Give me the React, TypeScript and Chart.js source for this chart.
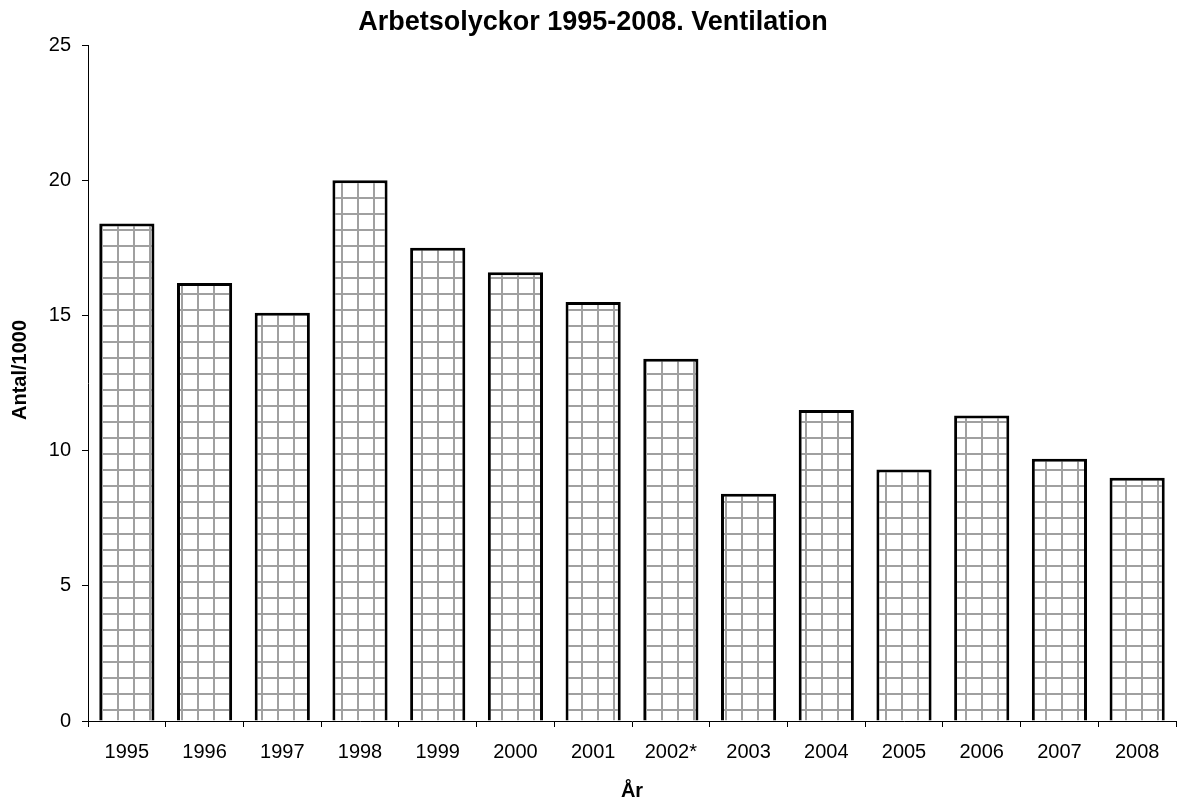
import React, { useEffect, useRef } from "react";
import { Chart, registerables } from "chart.js";

Chart.register(...registerables);

const years: string[] = ["1995", "1996", "1997", "1998", "1999", "2000", "2001", "2002*", "2003", "2004", "2005", "2006", "2007", "2008"];
const values: number[] = [18.4, 16.2, 15.1, 20.0, 17.5, 16.6, 15.5, 13.4, 8.4, 11.5, 9.3, 11.3, 9.7, 9.0];
const chartTitle = "Arbetsolyckor 1995-2008. Ventilation";
const xTitle = "År";
const yTitle = "Antal/1000";
const yMax = 25;
const yStep = 5;

const FONT = "'Liberation Sans', Arial, sans-serif";

function makePattern(): CanvasPattern | string {
  const c = document.createElement("canvas");
  const s = 16;
  c.width = s;
  c.height = s;
  const ctx = c.getContext("2d");
  if (!ctx) return "#fff";
  ctx.fillStyle = "#ffffff";
  ctx.fillRect(0, 0, s, s);
  ctx.fillStyle = "#a0a0a0";
  ctx.fillRect(5, 0, 2, s);
  ctx.fillRect(0, 5, s, 2);
  const p = ctx.createPattern(c, "repeat");
  return p || "#fff";
}

const textPlugin = {
  id: "customTexts",
  afterDraw(chart: any) {
    const ctx = chart.ctx as CanvasRenderingContext2D;
    ctx.save();
    ctx.fillStyle = "#000";
    ctx.textAlign = "center";
    ctx.textBaseline = "middle";
    ctx.font = `bold 27px ${FONT}`;
    ctx.fillText(chartTitle, 593, 23);
    ctx.translate(20, 370);
    ctx.rotate(-Math.PI / 2);
    ctx.font = `bold 20px ${FONT}`;
    ctx.fillText(yTitle, 0, 0);
    ctx.restore();
  },
};

export default function App() {
  const ref = useRef<HTMLCanvasElement | null>(null);

  useEffect(() => {
    if (!ref.current) return;
    const pattern = makePattern();
    const chart = new Chart(ref.current, {
      type: "bar",
      data: {
        labels: years,
        datasets: [
          {
            data: values,
            backgroundColor: pattern as any,
            borderColor: "#000000",
            borderWidth: 3,
            barPercentage: 0.71,
            categoryPercentage: 1.0,
          },
        ],
      },
      plugins: [textPlugin],
      options: {
        animation: false,
        responsive: true,
        maintainAspectRatio: false,
        layout: { padding: { left: 0, right: 14, top: 45, bottom: 0 } },
        plugins: {
          legend: { display: false },
          tooltip: { enabled: false },
          title: { display: false },
        },
        scales: {
          x: {
            offset: true,
            grid: {
              display: true,
              drawOnChartArea: false,
              drawTicks: true,
              tickLength: 6,
              color: "#000",
              offset: true,
            },
            border: { display: true, color: "#000", width: 1 },
            ticks: {
              color: "#000",
              font: { family: FONT, size: 20 },
              padding: 13,
              maxRotation: 0,
              autoSkip: false,
            },
            title: {
              display: true,
              text: xTitle,
              color: "#000",
              font: { family: FONT, size: 20, weight: "bold" },
              padding: { top: 0, bottom: 2 },
            },
            afterFit: (scale: any) => {
              scale.height = 84;
            },
          },
          y: {
            min: 0,
            max: yMax,
            grid: {
              display: true,
              drawOnChartArea: false,
              drawTicks: true,
              tickLength: 6,
              color: "#000",
            },
            border: { display: true, color: "#000", width: 1 },
            ticks: {
              stepSize: yStep,
              color: "#000",
              font: { family: FONT, size: 20 },
              padding: 11,
            },
            afterFit: (scale: any) => {
              scale.width = 88;
            },
          },
        },
      },
    });
    return () => chart.destroy();
  }, []);

  return (
    <div style={{ position: "absolute", left: 0, top: 0, width: 1190, height: 805, background: "#fff" }}>
      <canvas ref={ref} />
    </div>
  );
}
